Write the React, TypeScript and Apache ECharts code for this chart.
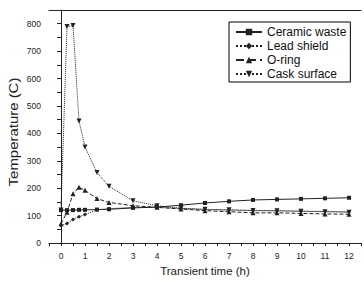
import React, { useEffect, useRef } from "react";
import * as echarts from "echarts";

const times = [0, 0.25, 0.5, 0.75, 1, 1.5, 2, 3, 4, 5, 6, 7, 8, 9, 10, 11, 12];
const ceramicWaste = [120, 120, 120, 121, 121, 122, 123, 128, 131, 138, 146, 152, 157, 159, 161, 163, 165];
const leadShield = [64, 71, 86, 96, 104, 121, 125, 130, 131, 126, 122, 120, 118, 117, 116, 115, 114];
const oRing = [70, 112, 180, 203, 192, 162, 148, 136, 130, 124, 118, 114, 110, 110, 108, 106, 105];
const caskSurface = [120, 790, 793, 445, 350, 257, 207, 154, 136, 127, 123, 121, 119, 118, 116, 114, 112];

const seriesNames = ["Ceramic waste", "Lead shield", "O-ring", "Cask surface"];
const xTitle = "Transient time (h)";
const yTitle = "Temperature (C)";

const FONT = "'Liberation Sans', Arial, sans-serif";
const INK = "#222";

const pairs = (vals: number[]) => times.map((t, i) => [t, vals[i]]);

export default function App() {
  const ref = useRef<HTMLDivElement>(null);
  useEffect(() => {
    if (!ref.current) return;
    const chart = echarts.init(ref.current, null, { renderer: "svg" });
    const lineBase = (name: string, vals: number[], type: any, symbol: string, size: number, rotate = 0) => ({
      name,
      type: "line",
      data: pairs(vals),
      symbol,
      symbolSize: size,
      symbolRotate: rotate,
      showSymbol: true,
      color: INK,
      lineStyle: { color: INK, width: 1, type },
      itemStyle: { color: INK },
    });
    chart.setOption({
      animation: false,
      backgroundColor: "#fff",
      textStyle: { fontFamily: FONT },
      grid: { left: 49, right: 0, top: 10, bottom: 34 },
      legend: {
        orient: "vertical",
        left: 229,
        top: 22,
        padding: [4, 4, 2, 6],
        itemGap: 2,
        itemWidth: 26,
        itemHeight: 8,
        borderColor: "#000",
        borderWidth: 1,
        backgroundColor: "#fff",
        textStyle: { fontSize: 12, color: "#111", fontFamily: FONT, lineHeight: 12 },
        data: seriesNames,
      },
      xAxis: [
        {
          type: "value",
          min: -0.5,
          max: 12.5,
          interval: 0.5,
          splitLine: { show: false },
          axisLine: { onZero: false, lineStyle: { color: INK, width: 1 } },
          axisTick: { show: true, length: 3, lineStyle: { color: INK } },
          axisLabel: {
            margin: 8,
            fontSize: 8.5,
            color: INK,
            fontFamily: FONT,
            formatter: (v: number) => (Number.isInteger(v) && v >= 0 ? String(v) : ""),
          },
          name: xTitle,
          nameLocation: "middle",
          nameGap: 22,
          nameTextStyle: { fontSize: 11.5, color: INK, fontFamily: FONT },
        },
        {
          type: "value",
          position: "top",
          min: -0.5,
          max: 12.5,
          interval: 0.5,
          splitLine: { show: false },
          axisLine: { show: true, onZero: false, lineStyle: { color: INK, width: 1 } },
          axisTick: { show: false },
          axisLabel: { show: false },
        },
      ],
      yAxis: {
        type: "value",
        min: 0,
        max: 850,
        interval: 50,
        splitLine: { show: false },
        axisLine: { show: true, lineStyle: { color: INK, width: 1 } },
        axisTick: { show: true, length: 4, lineStyle: { color: INK } },
        axisLabel: {
          margin: 8,
          fontSize: 8.5,
          color: INK,
          fontFamily: FONT,
          formatter: (v: number) => (v % 100 === 0 ? String(v) : ""),
        },
      },
      graphic: [
        {
          type: "text",
          x: 13,
          y: 132,
          rotation: Math.PI / 2,
          scaleX: 1.15,
          style: {
            text: yTitle,
            fontSize: 13,
            fontFamily: FONT,
            fill: INK,
            textAlign: "center",
            textVerticalAlign: "middle",
          },
        },
      ],
      series: [
        lineBase(seriesNames[0], ceramicWaste, "solid", "rect", 4),
        lineBase(seriesNames[1], leadShield, "dotted", "diamond", 4),
        lineBase(seriesNames[2], oRing, "dashed", "triangle", 5),
        lineBase(seriesNames[3], caskSurface, "dotted", "triangle", 5, 180),
      ],
    });
    return () => chart.dispose();
  }, []);
  return <div ref={ref} style={{ width: 364, height: 282, position: "absolute", left: 0, top: 0 }} />;
}
